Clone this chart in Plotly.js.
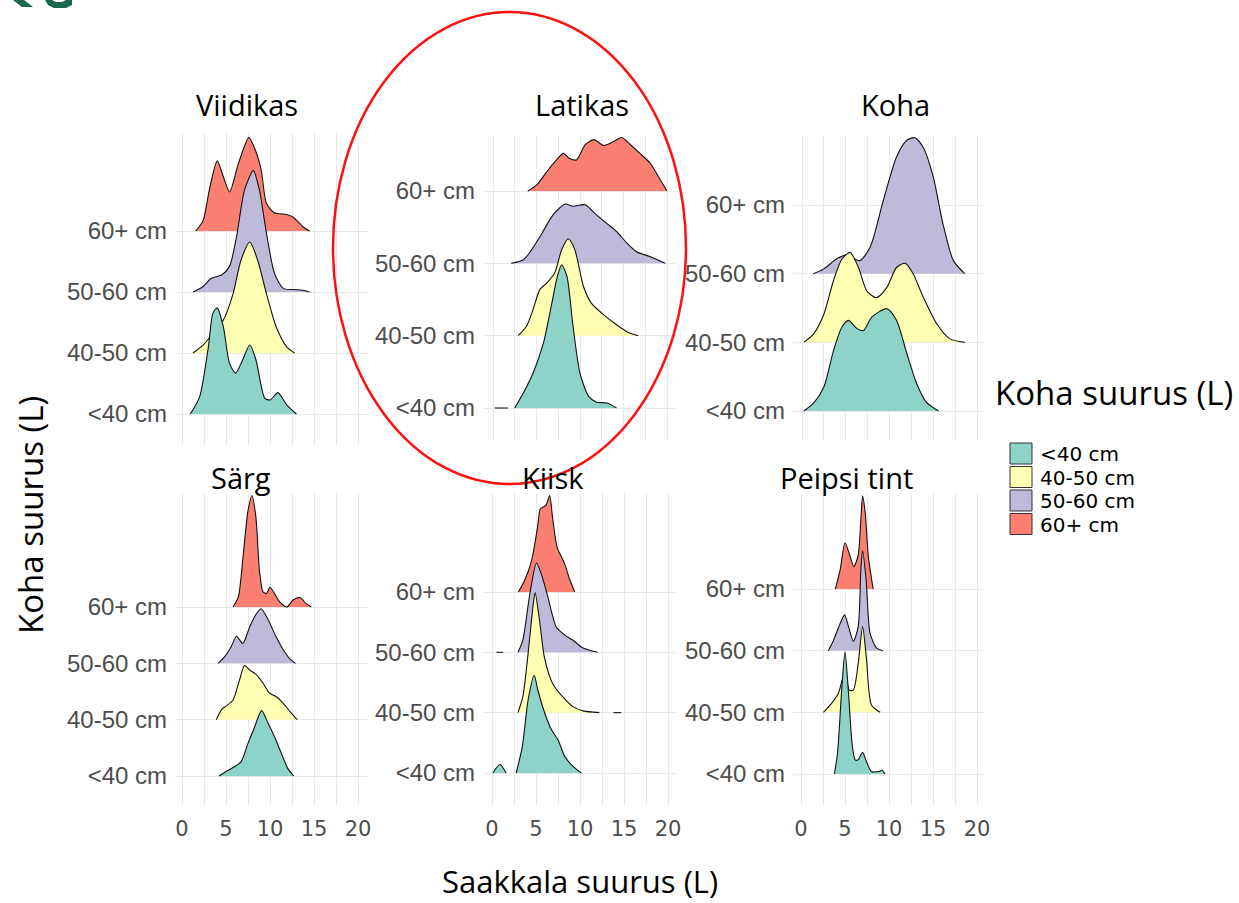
<!DOCTYPE html>
<html><head><meta charset="utf-8">
<script src="https://cdn.plot.ly/plotly-3.0.1.min.js"></script>
<style>html,body{margin:0;padding:0;background:#fff}#chart{width:1239px;height:903px}</style>
</head><body><div id="chart"></div>
<script>
// ---------- DATA ----------
const categories = ['<40 cm', '40-50 cm', '50-60 cm', '60+ cm'];
const fillColors = ['#8dd3c7', '#ffffb3', '#bebada', '#fb8072'];
const panelTitles = ['Viidikas', 'Latikas', 'Koha', 'Särg', 'Kiisk', 'Peipsi tint'];
const xTickVals = [0, 2.5, 5, 7.5, 10, 12.5, 15, 17.5, 20];
const xTickText = ['0', '', '5', '', '10', '', '15', '', '20'];
const legendTitle = 'Koha suurus (L)';
const yTitle = 'Koha suurus (L)';
const xTitle = 'Saakkala suurus (L)';

// density ridges: x (prey size) and height (in row units); order <40, 40-50, 50-60, 60+
const viidikasX = [
  [0.95,2.0,3.0,3.5,4.0,4.7,5.4,6.1,6.9,7.7,8.4,9.4,10.0,10.9,11.9,13.0],
  [1.25,2.4,3.5,4.7,5.8,6.7,7.7,8.6,9.6,10.7,11.9,12.8],
  [1.25,2.4,3.3,4.5,5.4,6.2,7.1,8.1,8.8,9.6,10.5,11.5,12.6,13.75,14.5],
  [1.55,2.4,3.1,4.0,4.7,5.4,6.4,7.6,8.4,9.0,9.6,10.5,11.9,12.6,13.75,14.5]
];
const viidikasH = [
  [0,0.28,1.10,1.65,1.74,1.43,0.83,0.67,0.89,1.13,0.89,0.26,0.23,0.35,0.15,0],
  [0,0.13,0.32,0.54,0.97,1.52,1.82,1.52,0.97,0.43,0.10,0],
  [0,0.09,0.22,0.28,0.42,0.91,1.67,1.99,1.67,0.96,0.31,0.06,0.04,0.03,0],
  [0,0.17,0.67,1.15,0.89,0.64,1.10,1.53,1.30,1.0,0.45,0.30,0.27,0.23,0.07,0]
];
const latikasX = [
  [0.2,1.7,null,2.5,3.5,4.6,5.8,6.7,7.4,7.9,8.5,9.2,10.0,11.0,11.9,13.1,14.2],
  [2.9,3.85,4.6,5.4,6.2,7.1,7.9,8.65,9.4,10.4,11.3,12.7,14.2,15.6,16.7],
  [2.1,3.5,4.4,5.6,6.9,8.3,9.2,10.6,11.7,13.1,14.2,15.4,16.5,18.1,19.8],
  [4.0,5.0,6.2,7.3,8.1,8.8,9.6,10.6,11.6,12.7,13.8,14.8,15.8,16.9,18.1,19.0,20.0]
];
const latikasH = [
  [0,0,null,0,0.21,0.48,0.90,1.41,1.82,1.98,1.82,1.13,0.48,0.16,0.08,0.07,0],
  [0,0.13,0.36,0.64,0.73,0.87,1.19,1.34,1.19,0.68,0.45,0.29,0.15,0.04,0],
  [0,0.05,0.18,0.41,0.67,0.82,0.79,0.81,0.69,0.55,0.44,0.28,0.16,0.09,0],
  [0,0.08,0.27,0.43,0.52,0.45,0.43,0.64,0.71,0.63,0.68,0.74,0.64,0.52,0.38,0.20,0]
];
const kohaX = [
  [0.2,1.3,2.5,3.6,4.55,5.3,6.3,7.0,8.0,9.7,10.8,12.0,13.1,14.2,15.6],
  [0.2,1.3,2.5,3.6,4.55,5.5,6.45,7.4,8.5,9.7,10.8,11.8,12.7,13.85,15.4,16.9,18.6],
  [1.3,2.5,4.0,5.1,6.6,7.8,9.3,10.8,11.95,12.9,13.85,15.0,16.1,17.3,18.6],
  null
];
const kohaH = [
  [0,0.11,0.35,0.88,1.22,1.32,1.20,1.17,1.37,1.49,1.32,0.83,0.40,0.13,0],
  [0,0.12,0.41,0.90,1.21,1.31,1.09,0.75,0.65,0.80,1.09,1.15,1.00,0.66,0.27,0.05,0],
  [0,0.07,0.22,0.27,0.19,0.39,1.07,1.70,1.94,1.98,1.84,1.41,0.73,0.19,0],
  null
];
const sargX = [
  [4.2,5.0,6.0,6.7,7.5,8.25,9.05,9.8,10.5,11.3,12.0,12.7],
  [3.9,4.5,5.0,5.8,6.55,7.1,7.7,8.45,9.2,9.95,10.7,11.5,12.4,13.1],
  [4.1,4.85,5.6,6.2,6.9,7.7,8.45,9.0,9.8,10.7,11.5,12.2,12.9],
  [5.8,6.4,6.9,7.5,7.95,8.4,8.8,9.2,9.6,10.0,10.5,11.1,11.9,12.6,13.4,14.1,14.7]
];
const sargH = [
  [0,0.08,0.17,0.25,0.58,0.87,1.16,0.93,0.70,0.40,0.14,0],
  [0,0.18,0.24,0.35,0.71,0.96,0.88,0.80,0.65,0.47,0.41,0.29,0.12,0],
  [0,0.12,0.30,0.48,0.35,0.65,0.88,0.97,0.77,0.47,0.24,0.09,0],
  [0,0.18,0.83,1.71,1.98,1.59,0.65,0.27,0.24,0.35,0.24,0.09,0,0.12,0.17,0.06,0]
];
const kiiskX = [
  [0.1,0.9,1.6,null,2.75,3.45,4.1,4.8,5.2,6.0,6.75,7.5,8.25,9.2,10.15],
  [2.95,3.5,4.1,4.65,4.9,5.4,5.95,6.9,8.05,9.2,10.35,12.2,null,13.8,14.7],
  [0.5,1.25,null,2.95,3.5,4.3,5.05,5.6,6.35,7.3,8.25,9.2,10.35,12.0],
  [3.0,3.7,4.5,5.2,5.5,6.1,6.55,6.9,7.4,7.9,8.25,8.8,9.4]
];
const kiiskH = [
  [0,0.14,0,null,0,0.44,1.21,1.62,1.38,0.99,0.72,0.55,0.28,0.11,0],
  [0,0.26,0.98,1.75,1.99,1.53,0.92,0.48,0.26,0.10,0.03,0,null,0,0],
  [0,0,null,0,0.20,0.97,1.48,1.30,0.92,0.42,0.29,0.20,0.07,0],
  [0,0.19,0.52,1.10,1.38,1.43,1.60,1.21,0.74,0.58,0.47,0.22,0]
];
const peipsiX = [
  [3.8,4.15,4.65,5.0,5.4,5.8,6.15,6.5,7.0,7.45,8.0,8.8,9.2,9.55],
  [2.55,3.5,4.25,4.95,5.5,5.95,6.5,7.0,7.45,8.0,9.0],
  [3.1,3.7,4.45,4.95,5.4,5.95,6.5,6.8,7.0,7.4,7.85,8.6,9.3],
  [3.9,4.45,5.0,5.6,6.0,6.5,6.8,7.0,7.3,7.65,8.2]
];
const peipsiH = [
  [0,0.34,1.42,1.98,1.31,0.50,0.23,0.23,0.35,0.20,0.04,0.04,0.06,0],
  [0,0.15,0.31,0.63,0.36,0.36,0.79,1.39,0.85,0.12,0],
  [0,0.17,0.44,0.58,0.39,0.15,0.39,1.31,1.62,1.15,0.28,0.04,0],
  [0,0.31,0.75,0.52,0.36,0.55,1.12,1.51,1.23,0.53,0]
];

// ---------- LAYOUT GEOMETRY (pixels) ----------
const W = 1239, H = 903;
const panelGeom = [
  {px0:182, px20:358, b0:414, b3:231, left:175, right:368, top:133, bottom:445, tx:247, ty:105, labels:false},
  {px0:493, px20:667, b0:408, b3:191, left:483, right:677, top:135, bottom:440, tx:582, ty:104, labels:false},
  {px0:802, px20:977, b0:411, b3:205, left:793, right:985, top:135, bottom:440, tx:895, ty:105, labels:false},
  {px0:182, px20:358, b0:776, b3:607, left:175, right:367, top:493, bottom:805, tx:241, ty:477, labels:true},
  {px0:492, px20:668, b0:773, b3:592, left:483, right:677, top:493, bottom:805, tx:553, ty:477, labels:true},
  {px0:801, px20:977, b0:774, b3:589, left:793, right:985, top:493, bottom:805, tx:846, ty:477, labels:true}
];
const panelX = [viidikasX, latikasX, kohaX, sargX, kiiskX, peipsiX];
const panelH = [viidikasH, latikasH, kohaH, sargH, kiiskH, peipsiH];

const px = v => v / W;
const py = v => 1 - v / H;

const traces = [];
const layout = {
  width: W, height: H,
  margin: {l:0, r:0, t:0, b:0},
  paper_bgcolor: '#ffffff', plot_bgcolor: 'rgba(0,0,0,0)',
  showlegend: false,
  annotations: [], shapes: []
};

panelGeom.forEach((g, i) => {
  const k = i + 1;
  const sx = (g.px20 - g.px0) / 20;
  const unit = (g.b0 - g.b3) / 3;
  layout['xaxis' + k] = {
    domain: [px(g.left), px(g.right)],
    range: [(g.left - g.px0) / sx, (g.right - g.px0) / sx],
    tickvals: xTickVals, ticktext: xTickText,
    showticklabels: g.labels, ticks: '', ticklabelstandoff: 9,
    tickfont: {family: 'DejaVu Sans', size: 21, color: '#4d4d4d'},
    showgrid: true, gridcolor: '#e9e9e9', gridwidth: 1,
    zeroline: false, showline: false, fixedrange: true, anchor: 'y' + k
  };
  layout['yaxis' + k] = {
    domain: [py(g.bottom), py(g.top)],
    range: [-(g.bottom - g.b0) / unit, 3 + (g.b3 - g.top) / unit],
    tickvals: [0, 1, 2, 3], ticktext: categories,
    ticks: '', ticklabelstandoff: 7,
    tickfont: {family: 'Liberation Sans', size: 24, color: '#4d4d4d'},
    showgrid: true, gridcolor: '#e9e9e9', gridwidth: 1,
    zeroline: false, showline: false, fixedrange: true, anchor: 'x' + k
  };
  // draw from top row (60+) down so lower ridges overlap upper ones
  for (let c = 3; c >= 0; c--) {
    const xs = panelX[i][c], hs = panelH[i][c];
    if (!xs) continue;
    traces.push({
      type: 'scatter', mode: 'lines',
      x: xs, y: hs.map(h => h === null ? null : c + h),
      fill: 'toself', fillcolor: fillColors[c],
      line: {color: '#111111', width: 1.1, shape: 'spline', smoothing: 0.7},
      connectgaps: false,
      name: categories[c], xaxis: 'x' + k, yaxis: 'y' + k,
      hoverinfo: 'skip', showlegend: false
    });
  }
  layout.annotations.push({
    text: panelTitles[i], xref: 'paper', yref: 'paper',
    x: px(g.tx), y: py(g.ty), xanchor: 'center', yanchor: 'middle', showarrow: false,
    font: {family: 'Open Sans', size: 29, color: '#000000'}
  });
});

// axis titles
layout.annotations.push({
  text: yTitle, xref: 'paper', yref: 'paper', x: px(30), y: py(515),
  xanchor: 'center', yanchor: 'middle', textangle: -90, showarrow: false,
  font: {family: 'Open Sans', size: 33, color: '#000000'}
});
layout.annotations.push({
  text: xTitle, xref: 'paper', yref: 'paper', x: px(580), y: py(881),
  xanchor: 'center', yanchor: 'middle', showarrow: false,
  font: {family: 'Open Sans', size: 31, color: '#000000'}
});
// legend
layout.annotations.push({
  text: legendTitle, xref: 'paper', yref: 'paper', x: px(1114), y: py(392),
  xanchor: 'center', yanchor: 'middle', showarrow: false,
  font: {family: 'Open Sans', size: 33, color: '#000000'}
});
categories.forEach((cat, c) => {
  const yTop = 443 + c * 23.5;
  layout.shapes.push({
    type: 'rect', xref: 'paper', yref: 'paper',
    x0: px(1010), x1: px(1032), y0: py(yTop + 21), y1: py(yTop),
    fillcolor: fillColors[c], line: {color: '#333333', width: 1}
  });
  layout.annotations.push({
    text: cat, xref: 'paper', yref: 'paper', x: px(1038), y: py(yTop + 11),
    xanchor: 'left', yanchor: 'middle', showarrow: false, height: 22,
    font: {family: 'DejaVu Sans', size: 20, color: '#000000'}
  });
});

// red highlight ellipse
layout.shapes.push({
  type: 'circle', xref: 'paper', yref: 'paper',
  x0: px(333), x1: px(686), y0: py(484), y1: py(12),
  line: {color: '#ff1010', width: 2.5}, fillcolor: 'rgba(0,0,0,0)'
});
// logo fragment at top-left
const pathOf = pts => 'M' + pts.map(p => px(p[0]) + ',' + py(p[1])).join(' L') + ' Z';
layout.shapes.push({
  type: 'path', xref: 'paper', yref: 'paper',
  path: pathOf([[13,0],[24,0],[33,7],[22,7]]),
  fillcolor: '#17684c', line: {width: 0}
});
layout.shapes.push({
  type: 'path', xref: 'paper', yref: 'paper',
  path: pathOf([[45,0],[48,5],[54,8],[66,8],[72,5],[72,0],[66,0],[62,2],[56,2],[52,0]]),
  fillcolor: '#17684c', line: {width: 0}
});

Plotly.newPlot('chart', traces, layout, {displayModeBar: false, staticPlot: true});
</script>
</body></html>
